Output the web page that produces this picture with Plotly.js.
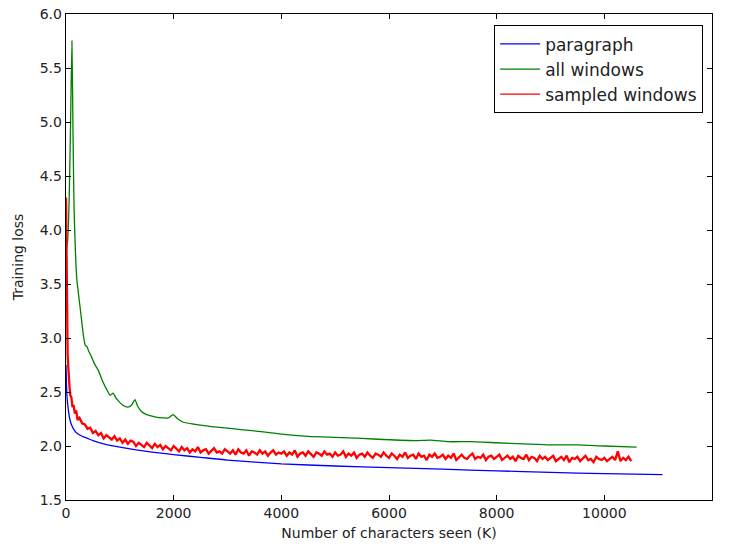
<!DOCTYPE html>
<html>
<head>
<meta charset="utf-8">
<script src="https://cdn.plot.ly/plotly-3.0.1.min.js"></script>
<style>html,body{margin:0;padding:0;background:#fff;}#chart{width:733px;height:546px;}</style>
</head>
<body>
<div id="chart"></div>
<script>
// ---- data ----
const seriesNames = ["paragraph", "all windows", "sampled windows"];

const paragraphX = [0, 10, 20, 40, 70, 100, 150, 200, 300, 400, 500, 700, 1000, 1500, 2000, 2500, 3000, 4000, 5000, 6000, 7000, 8000, 9000, 10000, 11080];
const paragraphY = [2.75, 2.55, 2.45, 2.35, 2.25, 2.2, 2.15, 2.12, 2.09, 2.07, 2.05, 2.02, 1.99, 1.95, 1.92, 1.895, 1.87, 1.835, 1.815, 1.80, 1.785, 1.77, 1.755, 1.745, 1.735];

const allWindowsX = [0, 30, 60, 85, 110, 130, 150, 175, 200, 270, 330, 360, 390, 420, 470, 520, 600, 680, 760, 820, 875, 920, 970, 1050, 1150, 1220, 1280, 1330, 1400, 1500, 1650, 1800, 1900, 1990, 2080, 2180, 2400, 2700, 3000, 3500, 4000, 4500, 5000, 5500, 5900, 6500, 6770, 7100, 7500, 8000, 8500, 9000, 9500, 10000, 10600];
const allWindowsY = [3.8, 3.9, 4.3, 5.0, 5.75, 4.9, 4.2, 3.8, 3.55, 3.25, 3.0, 2.93, 2.92, 2.88, 2.83, 2.77, 2.7, 2.6, 2.52, 2.47, 2.49, 2.45, 2.42, 2.38, 2.36, 2.38, 2.43, 2.37, 2.32, 2.29, 2.27, 2.26, 2.26, 2.29, 2.25, 2.22, 2.2, 2.18, 2.165, 2.14, 2.11, 2.09, 2.08, 2.07, 2.06, 2.05, 2.055, 2.04, 2.04, 2.03, 2.02, 2.01, 2.01, 2.0, 1.99];

const sampledEarlyX = [0, 8, 15, 22, 30, 40, 50, 65, 80, 100, 120, 140, 165, 190, 215];
const sampledEarlyY = [4.3, 3.7, 3.2, 3.05, 2.85, 2.75, 2.62, 2.55, 2.47, 2.45, 2.36, 2.38, 2.3, 2.33, 2.24];
const sampledGridStart = 250;
const sampledGridStep = 50;
const sampledGridY = [
  2.26,2.21,2.20,2.16,2.17,2.12,2.14,2.10,2.12,2.07,2.10,2.08,2.06,2.09,2.05,
  2.07,2.03,2.06,2.02,2.05,2.04,2.00,2.03,2.01,1.99,2.03,2.00,1.98,2.02,1.99,2.01,1.97,2.00,1.98,1.96,
  2.00,1.97,1.95,1.99,1.96,1.98,1.94,1.97,1.95,1.99,1.94,1.96,1.97,1.93,1.96,1.98,1.94,1.95,1.93,1.97,
  1.95,1.93,1.96,1.92,1.97,1.94,1.93,1.96,1.91,1.95,1.94,1.92,1.96,1.93,1.95,1.91,1.94,1.96,1.92,1.94,
  1.93,1.95,1.91,1.94,1.92,1.96,1.90,1.93,1.94,1.91,1.95,1.92,1.90,1.94,1.93,1.91,1.95,1.92,1.93,1.90,
  1.94,1.91,1.92,1.95,1.90,1.93,1.91,1.94,1.89,1.92,1.93,1.90,1.94,1.91,1.89,1.93,1.92,1.90,1.94,1.91,
  1.89,1.93,1.91,1.88,1.92,1.90,1.94,1.89,1.91,1.92,1.88,1.93,1.90,1.91,1.87,1.92,1.90,1.93,1.89,1.90,
  1.92,1.88,1.91,1.89,1.93,1.87,1.90,1.92,1.89,1.88,1.91,1.93,1.88,1.90,1.89,1.92,1.87,1.90,1.91,1.88,
  1.90,1.92,1.87,1.89,1.91,1.88,1.90,1.86,1.91,1.89,1.88,1.92,1.87,1.90,1.89,1.86,1.91,1.88,1.90,1.87,
  1.89,1.91,1.86,1.88,1.90,1.87,1.91,1.85,1.89,1.88,1.90,1.86,1.89,1.91,1.87,1.88,1.85,1.90,1.88,1.87,
  1.89,1.86,1.88,1.90,1.87,1.95,1.86,1.89,1.87,1.90,1.86
];

const yTickVals = [1.5, 2.0, 2.5, 3.0, 3.5, 4.0, 4.5, 5.0, 5.5, 6.0];
const xTickVals = [0, 2000, 4000, 6000, 8000, 10000, 12000];

// ---- build ----
const sampledX = sampledEarlyX.concat(sampledGridY.map((_, i) => sampledGridStart + i * sampledGridStep));
const sampledY = sampledEarlyY.concat(sampledGridY);

const traces = [
  {x: paragraphX, y: paragraphY, name: seriesNames[0], type: "scatter", mode: "lines",
   line: {color: "#0000ff", width: 1.3, shape: "spline", smoothing: 0.6}, legendgroup: "a"},
  {x: allWindowsX, y: allWindowsY, name: seriesNames[1], type: "scatter", mode: "lines",
   line: {color: "#008000", width: 1.3, shape: "spline", smoothing: 0.5}, legendgroup: "b"},
  {x: sampledX, y: sampledY, name: seriesNames[2], type: "scatter", mode: "lines",
   line: {color: "#ff0000", width: 2.3}, legendgroup: "c", showlegend: false},
  // legend entry for the sampled series, drawn with a thin line like the reference
  {x: [null], y: [null], name: seriesNames[2], type: "scatter", mode: "lines",
   line: {color: "#ff0000", width: 1.3}, legendgroup: "c", showlegend: true}
];

const axisCommon = {
  showline: true, linecolor: "#000", linewidth: 1.3, mirror: "allticks",
  ticks: "inside", ticklen: 5, tickwidth: 1, tickcolor: "#000",
  showgrid: false, zeroline: false,
  tickfont: {family: "DejaVu Sans", size: 14, color: "#222"}
};

const layout = {
  width: 733, height: 546,
  margin: {l: 66, r: 21, t: 14, b: 46, pad: 0},
  paper_bgcolor: "#fff", plot_bgcolor: "#fff",
  showlegend: true,
  legend: {
    x: 0.986, xanchor: "right", y: 0.977, yanchor: "top",
    bordercolor: "#000", borderwidth: 1.2, bgcolor: "#fff",
    font: {family: "DejaVu Sans", size: 17, color: "#222"},
    tracegroupgap: 8, traceorder: "normal", itemwidth: 40
  },
  xaxis: Object.assign({}, axisCommon, {
    range: [0, 12000], tickmode: "array", tickvals: xTickVals,
    ticktext: xTickVals.map(String),
    title: {text: "Number of characters seen (K)", font: {family: "DejaVu Sans", size: 14, color: "#222"}, standoff: 8}
  }),
  yaxis: Object.assign({}, axisCommon, {
    range: [1.5, 6.0], tickmode: "array", tickvals: yTickVals,
    ticktext: yTickVals.map(v => v.toFixed(1)),
    title: {text: "Training loss", font: {family: "DejaVu Sans", size: 14, color: "#222"}, standoff: 12}
  })
};

Plotly.newPlot("chart", traces, layout, {staticPlot: true, displayModeBar: false});
</script>
</body>
</html>
